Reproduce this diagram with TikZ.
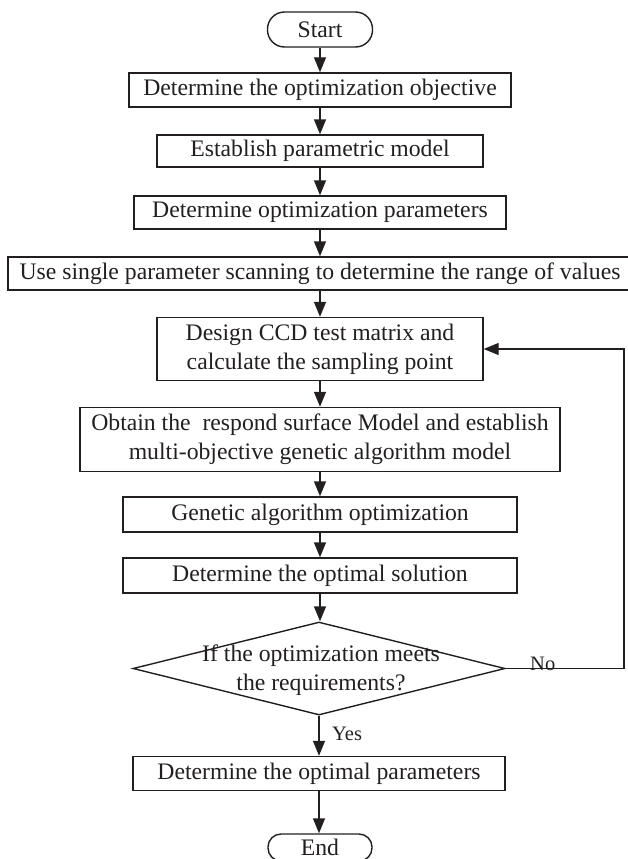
\documentclass[tikz,border=0pt]{standalone}
\usepackage{fontspec}
\setmainfont{Liberation Serif}
\usetikzlibrary{arrows.meta,shapes.geometric}
\definecolor{ink}{HTML}{231F20}
\begin{document}
\begin{tikzpicture}[x=1pt,y=1pt,
  every node/.style={font=\fontsize{23.7}{29}\selectfont, text=ink},
  box/.style={draw=ink, line width=1.4pt, rectangle, inner sep=0pt, align=center},
  term/.style={box, rounded corners=17pt},
  arr/.style={draw=ink, line width=1.4pt, -{Triangle[length=15pt,width=12pt]}},
  lbl/.style={font=\fontsize{20.5}{24}\selectfont, inner sep=0pt}]
\useasboundingbox (0,0) rectangle (628,-859);
\node[term, minimum width=105pt, minimum height=35pt] (start) at (320,-29.5) {Start};
\node[box, minimum width=382pt, minimum height=34pt] (b1) at (320,-90) {Determine the optimization objective};
\node[box, minimum width=326pt, minimum height=32pt] (b2) at (320,-151) {Establish parametric model};
\node[box, minimum width=372pt, minimum height=33pt] (b3) at (320,-212.5) {Determine optimization parameters};
\node[box, minimum width=624pt, minimum height=33pt] (b4) at (320,-273.5) {Use single parameter scanning to determine the range of values};
\node[box, minimum width=326pt, minimum height=63pt] (b5) at (320,-349) {Design CCD test matrix and\\calculate the sampling point};
\node[box, minimum width=480pt, minimum height=64pt] (b6) at (320,-439.5) {Obtain the~~respond surface Model and establish\\multi-objective genetic algorithm model};
\node[box, minimum width=394pt, minimum height=35pt] (b7) at (320,-514.5) {Genetic algorithm optimization};
\node[box, minimum width=394pt, minimum height=35pt] (b8) at (320,-575.5) {Determine the optimal solution};
\node[diamond, draw=ink, line width=1.4pt, inner sep=0pt, minimum width=372pt, minimum height=93pt] (dia) at (319,-668.5) {};
\node[align=center, inner sep=0pt] (diatext) at (321,-670) {If the optimization meets\\the requirements?};
\node[box, minimum width=372pt, minimum height=34pt] (b9) at (319,-773.5) {Determine the optimal parameters};
\node[term, rounded corners=13pt, minimum width=104pt, minimum height=27pt] (end) at (320,-847.5) {End};
\node[lbl, anchor=base west] (yes) at (332,-740) {Yes};
\node[lbl, anchor=base west] (no) at (530,-670) {No};
\coordinate (fb) at (624,-668.5);
\draw[arr] (start) -- (b1);
\draw[arr] (b1) -- (b2);
\draw[arr] (b2) -- (b3);
\draw[arr] (b3) -- (b4);
\draw[arr] (b4) -- (b5);
\draw[arr] (b5) -- (b6);
\draw[arr] (b6) -- (b7);
\draw[arr] (b7) -- (b8);
\draw[arr] (b8.south) -- (b8.south |- dia.north);
\draw[arr] (dia.south) -- (dia.south |- b9.north);
\draw[arr] (b9.south) -- (b9.south |- end.north);
\draw[arr] (dia.east) -- (fb) |- (b5.east);
\end{tikzpicture}
\end{document}
